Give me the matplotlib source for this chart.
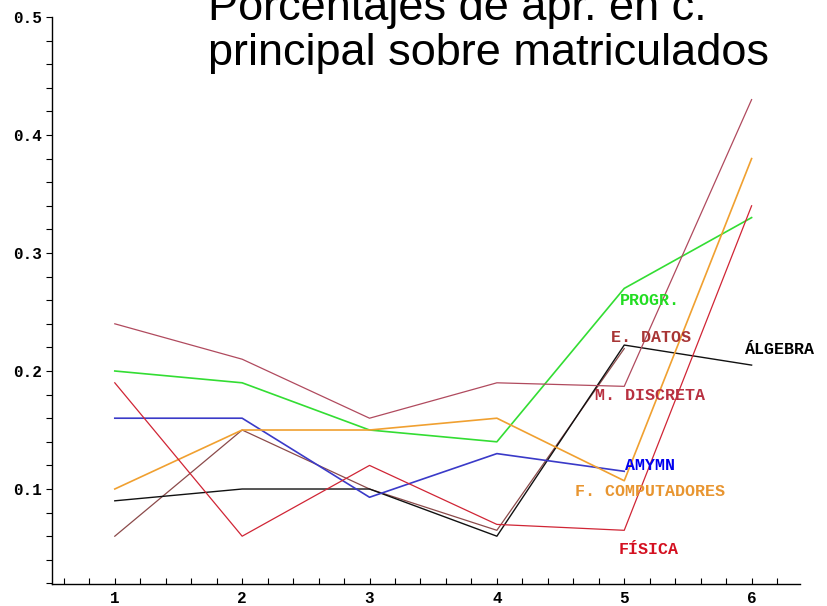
import matplotlib
matplotlib.use("Agg")
import matplotlib.pyplot as plt
from matplotlib.ticker import MultipleLocator, FixedLocator

semestres = [1, 2, 3, 4, 5, 6]

m_discreta = [0.24, 0.21, 0.16, 0.19, 0.187, 0.43]
progr = [0.20, 0.19, 0.15, 0.14, 0.27, 0.33]
algebra = [0.09, 0.10, 0.10, 0.06, 0.222, 0.205]
e_datos = [0.06, 0.15, 0.10, 0.065, 0.219]
amymn = [0.16, 0.16, 0.093, 0.13, 0.115]
f_comput = [0.10, 0.15, 0.15, 0.16, 0.107, 0.38]
fisica = [0.19, 0.06, 0.12, 0.07, 0.065, 0.34]

labels = ["PROGR.", "E. DATOS", "ÁLGEBRA", "M. DISCRETA", "AMYMN",
          "F. COMPUTADORES", "FÍSICA"]
label_x = [5.2, 5.21, 6.22, 5.2, 5.2, 5.2, 5.19]
label_y = [0.26, 0.228, 0.218, 0.179, 0.12, 0.098, 0.049]

title = "Porcentajes de apr. en c.\nprincipal sobre matriculados"
yticks = [0.1, 0.2, 0.3, 0.4, 0.5]
ytick_labels = ["0.1", "0.2", "0.3", "0.4", "0.5"]

W, H = 827, 606
fig = plt.figure(figsize=(W / 100, H / 100), dpi=100)
ax = fig.add_axes([52 / W, (H - 584) / H, (800 - 52) / W, (584 - 17) / H])

series = [
    (progr, "#33dd33", 1.2, "#22dd22"),
    (e_datos, "#8b4a4a", 0.9, "#a83535"),
    (algebra, "#111111", 1.0, "#000000"),
    (m_discreta, "#b04a5e", 0.9, "#b83040"),
    (amymn, "#3a3ac8", 1.2, "#0000ee"),
    (f_comput, "#f0a030", 1.2, "#e89530"),
    (fisica, "#d02535", 0.9, "#d41020"),
]

for (vals, col, lw, lcol), lab, lx, ly in zip(series, labels, label_x, label_y):
    ax.plot(semestres[:len(vals)], vals, color=col, lw=lw)
    ax.text(lx, ly, lab, color=lcol, ha="center", va="center",
            family="Liberation Mono", fontweight="bold", fontsize=12)

ax.set_xlim(0.507, 6.38)
ax.set_ylim(0.0195, 0.5)
for s in ["top", "right"]:
    ax.spines[s].set_visible(False)
ax.spines["left"].set_linewidth(1.0)
ax.spines["bottom"].set_linewidth(1.0)

ax.xaxis.set_major_locator(FixedLocator(semestres))
ax.xaxis.set_minor_locator(MultipleLocator(0.2))
ax.set_xticklabels([str(s) for s in semestres])
ax.yaxis.set_major_locator(FixedLocator(yticks))
ax.yaxis.set_minor_locator(MultipleLocator(0.02))
ax.set_yticklabels(ytick_labels)

ax.tick_params(axis="x", which="both", direction="in", length=4, width=0.8, pad=5)
ax.tick_params(axis="y", which="both", direction="out", length=4, width=0.8, pad=3)
for t in ax.get_xticklabels() + ax.get_yticklabels():
    t.set_family("Liberation Mono")
    t.set_fontweight("bold")
    t.set_fontsize(11.5)

fig.text(208 / W, 1 - 65 / H, title, ha="left", va="baseline",
         family="Liberation Sans", fontsize=32.5, linespacing=1.11)

fig.savefig("out.png", dpi=100)
